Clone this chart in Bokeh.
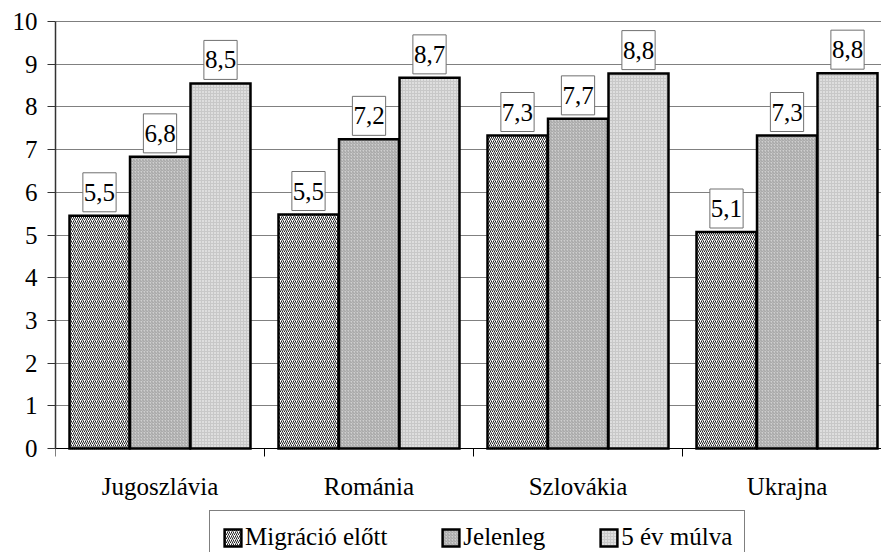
from bokeh.plotting import figure
from bokeh.models import Range1d, FixedTicker, Legend, LegendItem, Label, Span
from bokeh.embed import file_html
from bokeh.resources import INLINE

# ---------------- data ----------------
categories = ["Jugoszlávia", "Románia", "Szlovákia", "Ukrajna"]
series_names = ["Migráció előtt", "Jelenleg", "5 év múlva"]
before = [5.45, 5.48, 7.33, 5.07]
now = [6.83, 7.24, 7.72, 7.33]
after = [8.55, 8.68, 8.78, 8.79]
before_labels = ["5,5", "5,5", "7,3", "5,1"]
now_labels = ["6,8", "7,2", "7,7", "7,3"]
after_labels = ["8,5", "8,7", "8,8", "8,8"]
y_ticks = [0, 1, 2, 3, 4, 5, 6, 7, 8, 9, 10]

# ---------------- style ----------------
FONT = "'Liberation Serif', 'Times New Roman', 'DejaVu Serif', serif"
FS = "25px"
PX_PER_UNIT = 42.7
FRAME_H = 552 - 21

p = figure(width=881, height=552,
           x_range=Range1d(0, 826 / 209),
           y_range=Range1d(y_ticks[-1] - FRAME_H / PX_PER_UNIT, y_ticks[-1]),
           output_backend="svg", toolbar_location=None,
           min_border_left=55, min_border_right=0,
           min_border_top=21, min_border_bottom=0)
p.outline_line_color = None
p.background_fill_color = "white"
p.border_fill_color = "white"

p.xgrid.grid_line_color = None
p.ygrid.ticker = FixedTicker(ticks=y_ticks)
p.ygrid.grid_line_color = "#808080"
p.ygrid.grid_line_width = 1

p.add_layout(Span(location=y_ticks[-1], dimension="width", line_color="black", line_width=1))

series = [before, now, after]
labels = [before_labels, now_labels, after_labels]
offsets = [0.2105, 0.5, 0.7895]
bar_w = 0.287
styles = [
    dict(fill_color="white", hatch_pattern="/", hatch_color="#222222", hatch_scale=4, hatch_weight=1),
    dict(fill_color="#cfcfcf", hatch_pattern="/", hatch_color="#a0a0a0", hatch_scale=3, hatch_weight=1),
    dict(fill_color="#c8c8c8", hatch_pattern=".", hatch_color="white", hatch_scale=3, hatch_weight=1),
]

items = []
for j, vals in enumerate(series):
    xs = [i + offsets[j] for i in range(len(categories))]
    r = p.vbar(x=xs, top=vals, bottom=0, width=bar_w,
               line_color="black", line_width=2.5, line_join="miter",
               **styles[j])
    items.append(LegendItem(label=series_names[j], renderers=[r]))
    for x, v, t in zip(xs, vals, labels[j]):
        p.add_layout(Label(x=x, y=v, text=t, anchor="bottom_center", y_offset=4,
                           padding=(1, 11),
                           background_fill_color="white", background_fill_alpha=1,
                           border_line_color="#707070", border_line_width=1,
                           text_font=FONT, text_font_size=FS, text_color="black"))

# axes
p.yaxis.ticker = FixedTicker(ticks=y_ticks)
p.yaxis.bounds = (y_ticks[0], y_ticks[-1])
p.yaxis.major_tick_out = 8
p.yaxis.major_tick_in = 0
p.yaxis.minor_tick_line_color = None
p.yaxis.major_tick_line_color = "#333333"
p.yaxis.axis_line_color = "#333333"
p.yaxis.axis_line_width = 1.5
p.yaxis.major_label_standoff = 10
p.yaxis.major_label_text_font = FONT
p.yaxis.major_label_text_font_size = FS
p.yaxis.major_label_text_color = "black"

centers = [i + 0.5 for i in range(len(categories))]
p.xaxis.fixed_location = y_ticks[0]
p.xaxis.ticker = FixedTicker(ticks=centers, minor_ticks=list(range(len(categories) + 1)))
p.xaxis.major_label_overrides = {c: name for c, name in zip(centers, categories)}
p.xaxis.major_tick_line_color = None
p.xaxis.major_tick_out = 0
p.xaxis.major_tick_in = 0
p.xaxis.minor_tick_out = 8
p.xaxis.minor_tick_in = 0
p.xaxis.minor_tick_line_color = "black"
p.xaxis.axis_line_color = "black"
p.xaxis.major_label_standoff = 16
p.xaxis.major_label_text_font = FONT
p.xaxis.major_label_text_font_size = FS
p.xaxis.major_label_text_color = "black"

legend = Legend(items=items, orientation="horizontal", location=(154, -12),
                border_line_color="black", border_line_width=1,
                background_fill_color="white", background_fill_alpha=1,
                padding=12, spacing=53, margin=0,
                glyph_width=21, glyph_height=21, label_standoff=2,
                label_text_font=FONT, label_text_font_size=FS, label_text_color="black")
p.add_layout(legend)

open("out.html", "w").write(file_html(p, INLINE))
